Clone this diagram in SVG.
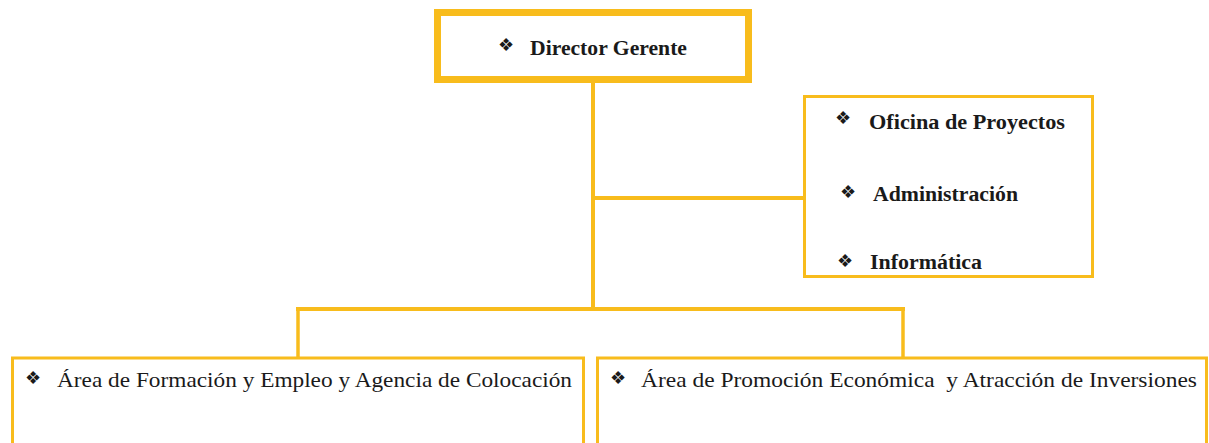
<svg xmlns="http://www.w3.org/2000/svg" width="1209" height="443" viewBox="0 0 1209 443">
<style>
.box{fill:#ffffff;stroke:#F8BC1C}
.ln{fill:none;stroke:#F8BC1C;stroke-linecap:square}
.t{font-family:"Liberation Serif","Times New Roman",serif;fill:#1a1a1a}
.b{font-weight:bold}
.bul{font-family:"DejaVu Sans",sans-serif;fill:#1a1a1a;font-size:18px;text-anchor:middle}
</style>
<rect width="1209" height="443" fill="#ffffff"/>
<g id="connectors">
<line class="ln" x1="593" y1="83" x2="593" y2="309" stroke-width="4"/>
<line class="ln" x1="593" y1="198" x2="806" y2="198" stroke-width="4" style="stroke-linecap:round"/>
<line class="ln" x1="298" y1="309" x2="903" y2="309" stroke-width="4"/>
<line class="ln" x1="298" y1="309" x2="298" y2="357" stroke-width="3.5"/>
<line class="ln" x1="903" y1="309" x2="903" y2="357" stroke-width="3.5"/>
<line x1="813" y1="185" x2="813" y2="190" stroke="#555" stroke-width="1"/>
</g>
<g id="director">
<rect class="box" x="437.5" y="12.5" width="311" height="67" stroke-width="7"/>
<text class="bul" x="506" y="51">❖</text>
<text class="t b" x="530" y="55" font-size="22" textLength="157" lengthAdjust="spacingAndGlyphs">Director Gerente</text>
</g>
<g id="staff">
<rect class="box" x="804.5" y="96.5" width="288" height="180" stroke-width="3"/>
<text class="bul" x="843" y="124">❖</text>
<text class="t b" x="869" y="129" font-size="20" textLength="196" lengthAdjust="spacingAndGlyphs">Oficina de Proyectos</text>
<text class="bul" x="848" y="198">❖</text>
<text class="t b" x="873" y="201" font-size="20" textLength="145" lengthAdjust="spacingAndGlyphs">Administración</text>
<text class="bul" x="845" y="267">❖</text>
<text class="t b" x="870" y="269" font-size="20" textLength="112" lengthAdjust="spacingAndGlyphs">Informática</text>
</g>
<g id="area-formacion">
<rect class="box" x="12.5" y="358" width="571" height="120" stroke-width="3"/>
<text class="bul" x="33" y="384">❖</text>
<text class="t" x="57" y="387" font-size="21" textLength="515" lengthAdjust="spacingAndGlyphs">Área de Formación y Empleo y Agencia de Colocación</text>
</g>
<g id="area-promocion">
<rect class="box" x="597.5" y="358" width="609" height="120" stroke-width="3"/>
<text class="bul" x="618" y="384">❖</text>
<text class="t" x="641" y="387" font-size="21" textLength="556" lengthAdjust="spacingAndGlyphs" xml:space="preserve">Área de Promoción Económica  y Atracción de Inversiones</text>
</g>
</svg>
